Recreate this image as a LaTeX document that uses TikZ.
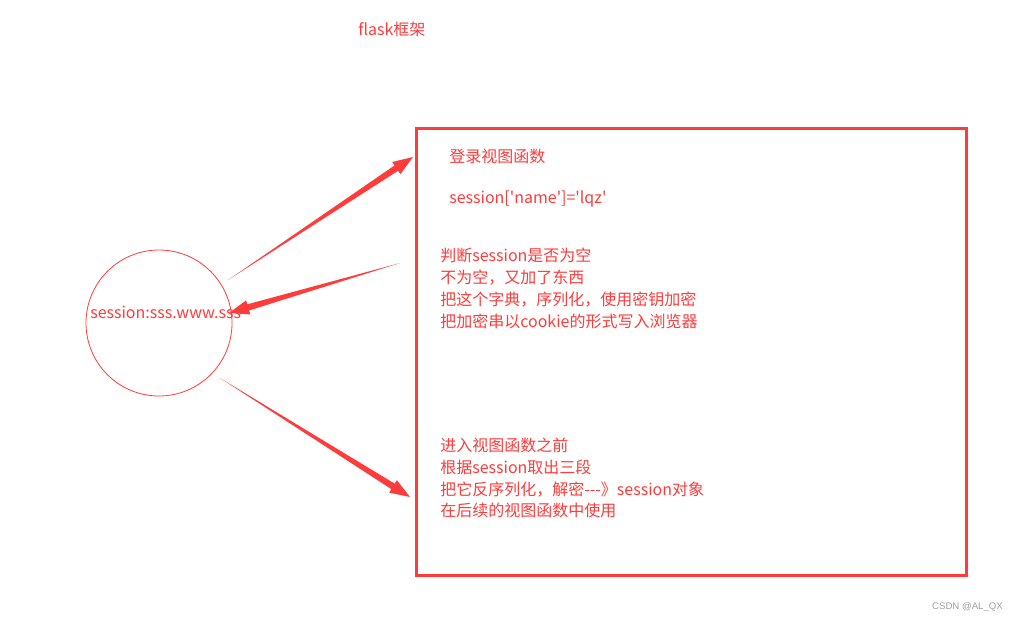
\documentclass[tikz,border=0pt]{standalone}
\usepackage{fontspec}
\setmainfont{Noto Sans CJK SC}[Ligatures=TeXOff]
\newfontfamily\wmfont{Liberation Sans}
\usetikzlibrary{calc}
\definecolor{rd}{RGB}{255,60,60}
\definecolor{wm}{RGB}{160,160,160}
\newcommand\taperarrow[2]{%
  \coordinate (h) at ($(#2)!15pt!(#1)$);
  \fill[rd] (#1) -- ($(h)!2.4pt!90:(#1)$) -- ($(h)!5.5pt!90:(#1)$) -- (#2)
    -- ($(h)!5.5pt!-90:(#1)$) -- ($(h)!2.4pt!-90:(#1)$) -- cycle;}
\begin{document}
\begin{tikzpicture}[x=0.75pt,y=-0.75pt,
  txt/.style={text=rd,font=\fontsize{12pt}{16.3pt}\selectfont,inner sep=0pt,align=left}]
\useasboundingbox[fill=white] (0,0) rectangle (1017,622);
\node[txt,anchor=west] (title) at (358,29) {flask框架};
\node[draw=rd,line width=2.25pt,minimum width=412.5pt,minimum height=335.5pt,inner sep=0pt,anchor=north west] (box) at (415,127) {};
\node[circle,draw=rd,line width=0.6pt,minimum size=109.5pt,inner sep=0pt] (c) at (159,323) {};
\node[txt,anchor=west] (stext) at (90,312) {session:sss.www.sss};
\node[txt,anchor=west] (b1a) at (449,156) {登录视图函数};
\node[txt,anchor=west] (b1b) at (449,199) {session['name']='lqz'};
\node[txt,anchor=north west] (b2) at (440,248) {判断session是否为空\\不为空，又加了东西\\把这个字典，序列化，使用密钥加密\\把加密串以cookie的形式写入浏览器};
\node[txt,anchor=north west] (b3) at (440,438) {进入视图函数之前\\根据session取出三段\\把它反序列化，解密---》session对象\\在后续的视图函数中使用};
\node[text=wm,font=\wmfont\fontsize{7.2pt}{9pt}\selectfont,anchor=east,inner sep=0pt] (wmk) at (1003,607) {CSDN @AL\_QX};
\coordinate (a1s) at (228,280);
\coordinate (a1e) at (413,157);
\coordinate (a2s) at (400,263);
\coordinate (a2e) at (229,313);
\coordinate (a3s) at (220,378);
\coordinate (a3e) at (410,497);
\taperarrow{a1s}{a1e}
\taperarrow{a2s}{a2e}
\taperarrow{a3s}{a3e}
\end{tikzpicture}
\end{document}
